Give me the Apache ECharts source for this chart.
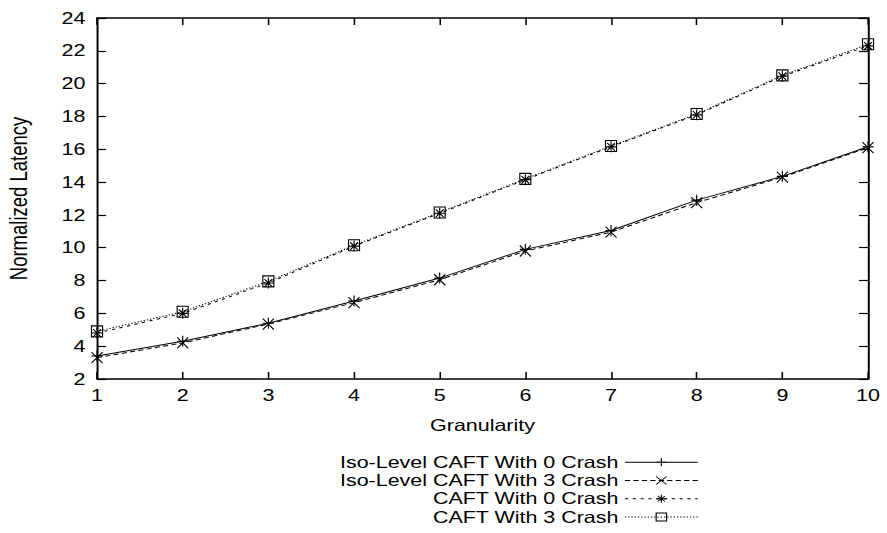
<!DOCTYPE html>
<html>
<head>
<meta charset="utf-8">
<script src="https://cdn.jsdelivr.net/npm/echarts@6.0.0/dist/echarts.min.js"></script>
<style>
  html, body { margin: 0; padding: 0; background: #fff; overflow: hidden; }
  #wrap { width: 887px; height: 533px; overflow: hidden; }
  #chart { width: 682px; height: 533px; transform: scaleX(1.3006); transform-origin: 0 0; }
</style>
</head>
<body>
<div id="wrap"><div id="chart"></div></div>
<script>
// ---- data ----
const granularity = [1, 2, 3, 4, 5, 6, 7, 8, 9, 10];
const isoCaft0 = [3.4, 4.3, 5.4, 6.75, 8.15, 9.9, 11.05, 12.9, 14.35, 16.15];
const isoCaft3 = [3.3, 4.2, 5.35, 6.65, 8.05, 9.8, 10.95, 12.75, 14.3, 16.1];
const caft0 = [4.8, 6.0, 7.85, 10.1, 12.1, 14.15, 16.15, 18.1, 20.45, 22.3];
const caft3 = [4.9, 6.1, 7.95, 10.15, 12.15, 14.2, 16.2, 18.15, 20.5, 22.4];
const seriesNames = [
  'Iso-Level CAFT With 0 Crash',
  'Iso-Level CAFT With 3 Crash',
  'CAFT With 0 Crash',
  'CAFT With 3 Crash'
];
const xTicks = { min: 1, max: 10, interval: 1 };
const yTicks = { min: 2, max: 24, interval: 2 };

// ---- styling ----
const FONT = 'Liberation Sans';
const symPlus = 'path://M0,5L10,5M5,0L5,10';
const symCross = 'path://M0,0L10,10M10,0L0,10';
const symStar = 'path://M0,5L10,5M5,0L5,10M1.5,1.5L8.5,8.5M8.5,1.5L1.5,8.5';
const symSquare = 'path://M0,0L10,0L10,10L0,10Z';

function pts(vals) { return granularity.map((g, i) => [g, vals[i]]); }

function mkSeries(name, vals, symbol, dash) {
  return {
    name: name,
    type: 'line',
    xAxisIndex: 0,
    yAxisIndex: 0,
    data: pts(vals),
    symbol: symbol,
    symbolSize: [8.5, 11],
    showSymbol: true,
    clip: false,
    lineStyle: { color: '#000', width: 1, type: dash },
    itemStyle: { color: 'rgba(0,0,0,0)', borderColor: '#000', borderWidth: 1 },
    emphasis: { disabled: true }
  };
}

const axisCommon = {
  type: 'value',
  axisLine: { show: true, lineStyle: { color: '#000', width: 1.5 } },
  axisTick: { show: true, inside: true, length: 7, lineStyle: { color: '#000', width: 1.2 } },
  splitLine: { show: false }
};

const chart = echarts.init(document.getElementById('chart'), null, { renderer: 'svg' });
chart.setOption({
  animation: false,
  backgroundColor: '#fff',
  textStyle: { fontFamily: FONT, color: '#000' },
  grid: { left: 74.6, right: 14.6, top: 18, bottom: 154, outerBoundsMode: 'none', containLabel: false },
  xAxis: [
    Object.assign({}, axisCommon, {
      position: 'bottom',
      min: xTicks.min, max: xTicks.max, interval: xTicks.interval,
      name: 'Granularity', nameLocation: 'middle', nameGap: 38,
      nameTextStyle: { fontFamily: FONT, fontSize: 16.5, color: '#000' },
      axisLabel: { show: true, margin: 8, fontFamily: FONT, fontSize: 16.5, color: '#000' }
    }),
    Object.assign({}, axisCommon, {
      position: 'top',
      min: xTicks.min, max: xTicks.max, interval: xTicks.interval,
      axisLabel: { show: false }
    })
  ],
  yAxis: [
    Object.assign({}, axisCommon, {
      position: 'left',
      min: yTicks.min, max: yTicks.max, interval: yTicks.interval,
      name: 'Normalized Latency', nameLocation: 'middle', nameGap: 50, nameRotate: 90,
      nameTextStyle: { fontFamily: FONT, fontSize: 18.5, color: '#000' },
      axisLabel: { show: true, margin: 9, fontFamily: FONT, fontSize: 16.5, color: '#000' }
    }),
    Object.assign({}, axisCommon, {
      position: 'right',
      min: yTicks.min, max: yTicks.max, interval: yTicks.interval,
      axisLabel: { show: false }
    })
  ],
  legend: {
    show: true,
    orient: 'vertical',
    align: 'right',
    right: 145,
    top: 453,
    itemWidth: 56,
    itemHeight: 10,
    itemGap: 0,
    padding: 0,
    selectedMode: false,
    data: seriesNames,
    lineStyle: { width: 1 },
    itemStyle: { borderWidth: 0.9 },
    textStyle: { fontFamily: FONT, fontSize: 16.5, color: '#000', lineHeight: 18.3 }
  },
  series: [
    mkSeries(seriesNames[0], isoCaft0, symPlus, 'solid'),
    mkSeries(seriesNames[1], isoCaft3, symCross, [4, 2.5]),
    mkSeries(seriesNames[2], caft0, symStar, [2.5, 3.5]),
    mkSeries(seriesNames[3], caft3, symSquare, [1, 1.5])
  ]
});
</script>
</body>
</html>
